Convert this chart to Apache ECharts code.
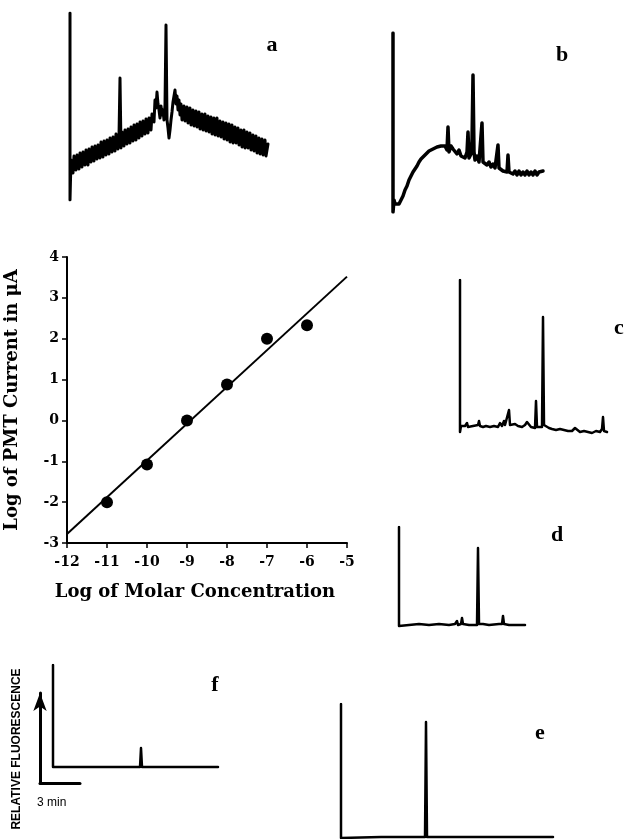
<!DOCTYPE html>
<html>
<head>
<meta charset="utf-8">
<script src="https://cdn.jsdelivr.net/npm/echarts/dist/echarts.min.js"></script>
<style>
  html, body { margin: 0; padding: 0; background: #fff; }
  #chart { width: 627px; height: 839px; }
</style>
</head>
<body>
<div id="chart"></div>
<script>
// calibration: log molar concentration vs log PMT current
const concLog = [-11, -10, -9, -8, -7, -6];
const currentLog = [-2.0, -1.08, 0.0, 0.88, 2.0, 2.33];
const fitX = [-12, -5];
const fitY = [-2.78, 3.52];
const xTicks = [-12, -5, 1];
const yTicks = [-3, 4, 1];

// electropherograms, [time, signal]
const traceA = [[0,187],[0,0],[1,40],[3,27],[4,44],[6,30],[7,45],[9,31],[10,47],[12,33],[13,48],[15,35],[16,50],[18,35],[19,51],[21,38],[22,53],[24,39],[25,54],[27,41],[28,55],[30,42],[31,58],[33,43],[34,59],[36,45],[37,60],[39,46],[40,62],[42,48],[43,63],[45,49],[46,66],[48,51],[49,64],[50,122],[51,52],[52,68],[54,54],[55,70],[57,56],[58,71],[60,57],[61,73],[63,59],[64,75],[66,60],[67,76],[69,62],[70,78],[72,64],[73,79],[75,66],[76,81],[78,67],[79,82],[81,70],[82,86],[84,78],[85,100],[86,92],[87,108],[88,96],[89,90],[90,82],[91,94],[92,85],[93,90],[94,80],[95,95],[96,175],[97,80],[98,72],[99,62],[100,70],[101,80],[102,88],[103,98],[104,104],[105,110],[106,96],[107,104],[108,90],[109,100],[110,85],[111,96],[112,80],[114,94],[115,79],[117,93],[118,77],[120,92],[121,75],[123,90],[124,74],[126,89],[127,73],[129,88],[130,71],[132,86],[133,70],[135,86],[136,69],[138,84],[139,68],[141,83],[142,66],[144,82],[145,65],[147,82],[148,64],[150,79],[151,63],[153,78],[154,61],[156,77],[157,60],[159,76],[160,58],[162,75],[163,57],[165,73],[166,57],[168,72],[169,55],[171,70],[172,53],[174,70],[175,52],[177,68],[178,52],[180,67],[181,50],[183,65],[184,49],[186,64],[187,47],[189,62],[190,46],[192,61],[193,45],[195,60],[196,44],[198,56]];
const traceB = [[0,179],[0,0],[1,12],[2,8],[4,10],[6,8],[8,12],[10,16],[12,22],[14,26],[16,32],[18,36],[20,40],[22,42],[24,46],[26,50],[28,53],[30,54],[32,57],[34,58],[36,61],[38,60],[40,63],[42,62],[44,65],[46,63],[48,66],[50,64],[52,66],[54,62],[55,85],[56,60],[58,66],[60,63],[62,64],[64,58],[66,62],[68,56],[70,58],[72,54],[74,60],[75,80],[76,54],[78,58],[79,70],[80,137],[81,60],[82,52],[84,56],[86,50],[88,52],[89,89],[90,50],[92,52],[94,47],[96,50],[98,45],[100,48],[102,44],[104,46],[105,67],[106,44],[108,45],[110,41],[112,43],[114,40],[115,57],[116,40],[118,42],[120,38],[122,41],[124,37],[126,41],[128,37],[130,40],[132,37],[134,41],[136,37],[138,40],[140,37],[142,41],[144,37],[146,40],[148,38],[150,41]];
const traceC = [[0,155],[0,3],[1,9],[3,8],[5,9],[7,12],[8,8],[10,9],[13,9],[15,8],[18,10],[19,14],[20,9],[23,8],[26,9],[30,8],[34,9],[38,8],[40,12],[42,9],[44,14],[45,10],[47,12],[49,25],[50,10],[52,9],[55,11],[58,9],[62,8],[65,10],[67,13],[69,11],[71,8],[73,9],[75,7],[76,34],[77,8],[79,7],[82,8],[83,118],[84,10],[86,8],[89,7],[92,6],[96,5],[100,6],[104,5],[108,4],[112,4],[115,7],[117,5],[120,3],[124,4],[128,3],[132,2],[136,4],[140,3],[142,6],[143,18],[144,4],[147,3]];
const traceD = [[0,100],[0,1],[1,3],[10,2],[20,3],[30,2],[40,3],[50,2],[56,3],[58,6],[59,2],[62,3],[63,9],[64,3],[70,2],[78,2],[79,79],[80,3],[84,3],[90,2],[100,3],[103,3],[104,11],[105,3],[110,2],[120,2],[126,2]];
const traceE = [[0,134],[0,0],[1,1],[40,1],[84,1],[85,116],[86,1],[120,1],[160,1],[212,1]];
const traceF = [[0,103],[0,1],[1,1],[60,1],[87,1],[88,20],[89,1],[120,1],[165,1]];

const panels = [
  { name: "a", data: traceA, box: { left: 70, top: 13, width: 198, height: 187 }, w: 3, label: [272, 45] },
  { name: "b", data: traceB, box: { left: 393, top: 33, width: 150, height: 179 }, w: 3.5, label: [562, 55] },
  { name: "c", data: traceC, box: { left: 460, top: 280, width: 147, height: 155 }, w: 2.5, label: [619, 328] },
  { name: "d", data: traceD, box: { left: 399, top: 527, width: 126, height: 100 }, w: 2.5, label: [557, 535] },
  { name: "e", data: traceE, box: { left: 341, top: 704, width: 212, height: 134 }, w: 2.5, label: [540, 733] },
  { name: "f", data: traceF, box: { left: 53, top: 665, width: 165, height: 103 }, w: 2.5, label: [215, 685] },
];

const serif = "DejaVu Serif";
const chart = echarts.init(document.getElementById("chart"), null, { renderer: "canvas" });

const grids = [{ left: 67, top: 257, width: 280, height: 286 }];
const xAxes = [{
  gridIndex: 0, type: "value", min: xTicks[0], max: xTicks[1], interval: xTicks[2],
  name: "Log of Molar Concentration", nameLocation: "middle", nameGap: 40,
  nameTextStyle: { fontFamily: serif, fontWeight: "bold", fontSize: 18, color: "#000", padding: [0, 24, 0, 0] },
  axisLine: { onZero: false, lineStyle: { color: "#000", width: 2 } },
  axisTick: { length: 5, lineStyle: { color: "#000", width: 1.5 } },
  axisLabel: { fontFamily: serif, fontWeight: "bold", fontSize: 14, color: "#000", margin: 12 },
  splitLine: { show: false },
}];
const yAxes = [{
  gridIndex: 0, type: "value", min: yTicks[0], max: yTicks[1], interval: yTicks[2],
  name: "Log of PMT Current in \u03bcA", nameLocation: "middle", nameGap: 46,
  nameTextStyle: { fontFamily: serif, fontWeight: "bold", fontSize: 18, color: "#000" },
  axisLine: { onZero: false, lineStyle: { color: "#000", width: 2 } },
  axisTick: { length: 5, lineStyle: { color: "#000", width: 1.5 } },
  axisLabel: { fontFamily: serif, fontWeight: "bold", fontSize: 14, color: "#000", margin: 8 },
  splitLine: { show: false },
}];
const series = [
  {
    type: "line", xAxisIndex: 0, yAxisIndex: 0, showSymbol: false,
    lineStyle: { color: "#000", width: 2 },
    data: fitX.map((x, i) => [x, fitY[i]]),
  },
  {
    type: "scatter", xAxisIndex: 0, yAxisIndex: 0, symbolSize: 12,
    itemStyle: { color: "#000", opacity: 1 },
    data: concLog.map((x, i) => [x, currentLog[i]]),
  },
];

panels.forEach((p, k) => {
  const gi = k + 1;
  grids.push(p.box);
  xAxes.push({ gridIndex: gi, type: "value", min: 0, max: p.box.width, show: false });
  yAxes.push({ gridIndex: gi, type: "value", min: 0, max: p.box.height, show: false });
  series.push({
    type: "line", xAxisIndex: gi, yAxisIndex: gi, showSymbol: false,
    lineStyle: { color: "#000", width: p.w, join: "round", cap: "round" },
    data: p.data,
  });
});

// scale bar for panel f
const barIdx = grids.length;
grids.push({ left: 40, top: 693, width: 40, height: 90 });
xAxes.push({
  gridIndex: barIdx, type: "value", min: 0, max: 1,
  axisLine: { show: true, lineStyle: { color: "#000", width: 3 } },
  axisTick: { show: false }, axisLabel: { show: false }, splitLine: { show: false },
});
yAxes.push({
  gridIndex: barIdx, type: "value", min: 0, max: 1,
  axisLine: { show: true, symbol: ["none", "arrow"], symbolSize: [10, 18], lineStyle: { color: "#000", width: 3 } },
  axisTick: { show: false }, axisLabel: { show: false }, splitLine: { show: false },
});

const texts = panels.map((p) => ({
  type: "text", x: p.label[0], y: p.label[1],
  style: { text: p.name, font: "bold 22px 'Liberation Serif'", fill: "#000", textAlign: "center", textVerticalAlign: "middle" },
}));
texts.push({
  type: "text", x: 37, y: 803,
  style: { text: "3 min", font: "12px 'Liberation Sans'", fill: "#000", textAlign: "left", textVerticalAlign: "middle" },
});
texts.push({
  type: "text", x: 17, y: 749, rotation: Math.PI / 2,
  style: { text: "RELATIVE FLUORESCENCE", font: "bold 12px 'Liberation Sans'", fill: "#000", textAlign: "center", textVerticalAlign: "middle" },
});

chart.setOption({
  animation: false,
  backgroundColor: "#fff",
  grid: grids,
  xAxis: xAxes,
  yAxis: yAxes,
  series: series,
  graphic: texts,
});
</script>
</body>
</html>
